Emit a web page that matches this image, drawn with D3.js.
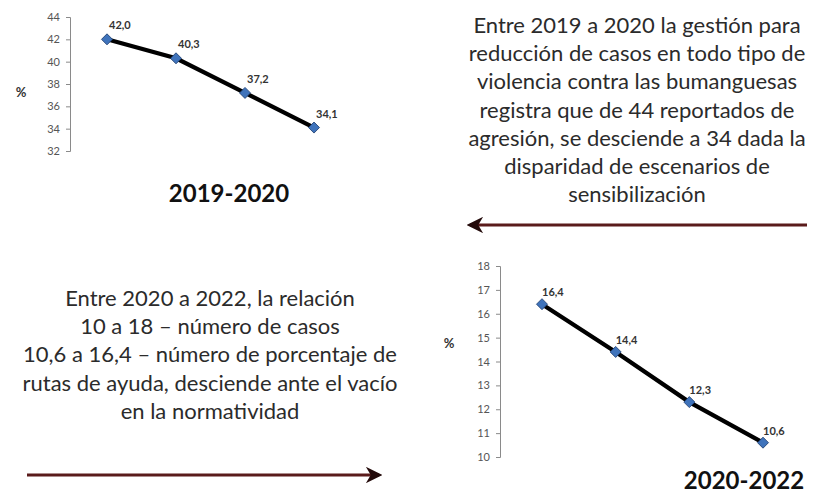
<!DOCTYPE html>
<html>
<head>
<meta charset="utf-8">
<script src="https://cdn.jsdelivr.net/npm/d3@7"></script>
<style>
  body { margin: 0; background: #fff; }
  text { font-family: Lato, "Open Sans", sans-serif; }
</style>
</head>
<body>
<svg id="chart"></svg>
<script>
// data for the two small line charts
const points_top = ["p1", "p2", "p3", "p4"];
const values_top = [42.0, 40.3, 37.2, 34.1];
const ticks_top = [32, 34, 36, 38, 40, 42, 44];

const points_bottom = ["p1", "p2", "p3", "p4"];
const values_bottom = [16.4, 14.4, 12.3, 10.6];
const ticks_bottom = [10, 11, 12, 13, 14, 15, 16, 17, 18];

const titles = ["2019-2020", "2020-2022"];

const text_top = [
  "Entre 2019 a 2020 la gestión para",
  "reducción de casos en todo tipo de",
  "violencia contra las bumanguesas",
  "registra que de 44 reportados de",
  "agresión, se desciende a 34 dada la",
  "disparidad de escenarios de",
  "sensibilización"
];
const text_bottom = [
  "Entre 2020 a 2022, la relación",
  "10 a 18 – número de casos",
  "10,6 a 16,4 – número de porcentaje de",
  "rutas de ayuda, desciende ante el vacío",
  "en la normatividad"
];

const w = 819, h = 494;
const svg = d3.select("#chart")
  .attr("width", w)
  .attr("height", h);

const fmt = v => v.toFixed(1).replace(".", ",");

// arrow heads
const defs = svg.append("defs");
defs.append("marker")
  .attr("id", "head")
  .attr("viewBox", "0 0 10 10")
  .attr("refX", 8).attr("refY", 5)
  .attr("markerWidth", 5.5).attr("markerHeight", 5.5)
  .attr("orient", "auto-start-reverse")
  .append("path")
  .attr("d", "M0,0 L10,5 L0,10 L3,5 Z")
  .attr("fill", "#230a0a");

function lineChart(cfg) {
  const x = d3.scalePoint()
    .domain(cfg.cats)
    .range(cfg.xr);
  const y = d3.scaleLinear()
    .domain(d3.extent(cfg.ticks))
    .range(cfg.yr);

  const g = svg.append("g");

  // y axis
  const ax = g.append("g")
    .attr("transform", `translate(${cfg.ax}, 0)`)
    .call(d3.axisLeft(y).tickValues(cfg.ticks).tickSize(4).tickPadding(6).tickFormat(d3.format("d")));
  ax.select(".domain").attr("stroke", "#8a8a8a");
  ax.selectAll(".tick line").attr("stroke", "#8a8a8a");
  ax.selectAll(".tick text")
    .attr("fill", "#555")
    .style("font-size", "11px");

  g.append("text")
    .attr("x", cfg.pctX)
    .attr("y", cfg.pctY)
    .attr("text-anchor", "middle")
    .attr("fill", "#333")
    .style("font-size", "13px")
    .style("font-weight", "bold")
    .text("%");

  const data = cfg.cats.map((c, i) => ({c: c, v: cfg.vals[i]}));

  const line = d3.line()
    .x(d => x(d.c))
    .y(d => y(d.v));

  g.append("path")
    .datum(data)
    .attr("fill", "none")
    .attr("stroke", "#000")
    .attr("stroke-width", 4.2)
    .attr("d", line);

  g.selectAll(".pt")
    .data(data)
    .join("path")
    .attr("class", "pt")
    .attr("transform", d => `translate(${x(d.c)}, ${y(d.v)}) rotate(45)`)
    .attr("d", "M-3.9,-3.9 H3.9 V3.9 H-3.9 Z")
    .attr("fill", "#3f73bb")
    .attr("stroke", "#1f3f70")
    .attr("stroke-width", 0.8);

  g.selectAll(".lbl")
    .data(data)
    .join("text")
    .attr("class", "lbl")
    .attr("x", d => x(d.c) + cfg.ldx)
    .attr("y", d => y(d.v) + cfg.ldy)
    .attr("fill", "#333")
    .style("font-size", "11px")
    .style("font-weight", "bold")
    .text(d => fmt(d.v));

  g.append("text")
    .attr("x", cfg.titleX)
    .attr("y", cfg.titleY)
    .attr("text-anchor", "middle")
    .attr("fill", "#111")
    .style("font-size", "24px")
    .style("font-weight", "bold")
    .text(cfg.title);
}

lineChart({
  cats: points_top, vals: values_top, ticks: ticks_top,
  xr: [107, 314], yr: [151, 17], ax: 70,
  pctX: 21, pctY: 97, ldx: 2, ldy: -10,
  title: titles[0], titleX: 229, titleY: 202
});

lineChart({
  cats: points_bottom, vals: values_bottom, ticks: ticks_bottom,
  xr: [542, 763], yr: [457, 266], ax: 500,
  pctX: 449, pctY: 348, ldx: 0, ldy: -8,
  title: titles[1], titleX: 744, titleY: 489
});

// text blocks
function para(lines, cx, y0, lh) {
  svg.append("g").selectAll("text")
    .data(lines)
    .join("text")
    .attr("x", cx)
    .attr("y", (d, i) => y0 + i * lh)
    .attr("text-anchor", "middle")
    .attr("fill", "#2b2b2b")
    .style("font-size", "22px")
    .text(d => d);
}
para(text_top, 637, 33, 28.2);
para(text_bottom, 210, 306, 28.2);

// arrows
svg.append("line")
  .attr("x1", 807).attr("y1", 225)
  .attr("x2", 470).attr("y2", 225)
  .attr("stroke", "#5a1b1b")
  .attr("stroke-width", 3)
  .attr("marker-end", "url(#head)");

svg.append("line")
  .attr("x1", 27).attr("y1", 475)
  .attr("x2", 379).attr("y2", 475)
  .attr("stroke", "#5a1b1b")
  .attr("stroke-width", 3)
  .attr("marker-end", "url(#head)");
</script>
</body>
</html>
